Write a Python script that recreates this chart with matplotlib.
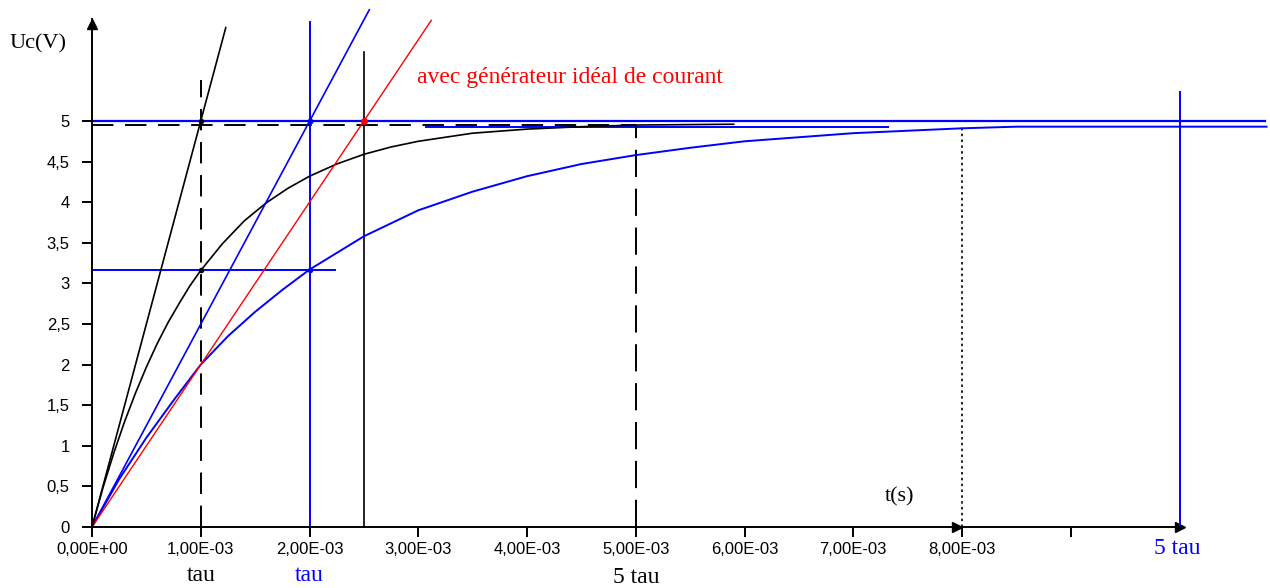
import matplotlib
matplotlib.use('Agg')
import matplotlib.pyplot as plt

# courbe de charge tau = 1 ms (noir)
t_noir = [0, 0.1e-3, 0.2e-3, 0.3e-3, 0.4e-3, 0.5e-3, 0.6e-3, 0.7e-3, 0.8e-3, 0.9e-3,
          1.0e-3, 1.2e-3, 1.4e-3, 1.6e-3, 1.8e-3, 2.0e-3, 2.25e-3, 2.5e-3, 2.75e-3,
          3.0e-3, 3.5e-3, 4.0e-3, 4.5e-3, 5.0e-3, 5.9e-3]
u_noir = [0, 0.48, 0.91, 1.3, 1.65, 1.97, 2.26, 2.52, 2.75, 2.97,
          3.16, 3.49, 3.77, 3.99, 4.17, 4.32, 4.47, 4.59, 4.68,
          4.75, 4.85, 4.9, 4.93, 4.95, 4.96]

# courbe de charge tau = 2 ms (bleu)
t_bleu = [0, 0.25e-3, 0.5e-3, 0.75e-3, 1.0e-3, 1.25e-3, 1.5e-3, 1.75e-3, 2.0e-3,
          2.5e-3, 3.0e-3, 3.5e-3, 4.0e-3, 4.5e-3, 5.0e-3, 5.5e-3, 6.0e-3, 7.0e-3,
          8.0e-3, 8.5e-3, 10.8e-3]
u_bleu = [0, 0.59, 1.1, 1.56, 2.0, 2.35, 2.65, 2.92, 3.17,
          3.58, 3.9, 4.13, 4.32, 4.47, 4.58, 4.67, 4.75, 4.85,
          4.91, 4.93, 4.93]

# tangentes a l'origine
t_tan_noir = [0, 1.23e-3]
u_tan_noir = [0, 6.15]
t_tan_bleu = [0, 2.55e-3]
u_tan_bleu = [0, 6.37]
# generateur ideal de courant
t_rouge = [0, 3.12e-3]
u_rouge = [0, 6.24]

# segment bleu proche de l'asymptote
t_plat = [3.07e-3, 7.32e-3]
u_plat = [4.93, 4.93]

x_ticks = [0, 1e-3, 2e-3, 3e-3, 4e-3, 5e-3, 6e-3, 7e-3, 8e-3, 9e-3]
x_labels = ['0,00E+00', '1,00E-03', '2,00E-03', '3,00E-03', '4,00E-03',
            '5,00E-03', '6,00E-03', '7,00E-03', '8,00E-03', '']
y_ticks = [0, 0.5, 1, 1.5, 2, 2.5, 3, 3.5, 4, 4.5, 5]
y_labels = ['0', '0,5', '1', '1,5', '2', '2,5', '3', '3,5', '4', '4,5', '5']

BLEU = '#0000ff'
ROUGE = '#ff0000'

fig = plt.figure(figsize=(12.7, 5.88), dpi=100)
ax = fig.add_axes([0, 0, 1, 1])
ax.set_xlim(-0.846e-3, 10.832e-3)
ax.set_ylim(-0.751, 6.49)

# axes
ax.spines['left'].set_position(('data', 0))
ax.spines['bottom'].set_position(('data', 0))
ax.spines['right'].set_visible(False)
ax.spines['top'].set_visible(False)
ax.spines['left'].set_bounds(0, 6.25)
ax.spines['bottom'].set_bounds(0, 10e-3)
ax.spines['left'].set_linewidth(1.4)
ax.spines['bottom'].set_linewidth(1.4)
ax.set_xticks(x_ticks)
ax.set_xticklabels(x_labels, family='Liberation Sans', fontsize=12)
ax.set_yticks(y_ticks)
ax.set_yticklabels(y_labels, family='Liberation Sans', fontsize=12)
ax.tick_params(axis='both', direction='out', length=7, width=1.4)
ax.tick_params(axis='x', pad=4)
ax.tick_params(axis='y', pad=9)
ax.patch.set_visible(False)

# fleches des axes
ax.plot([0], [6.2], marker='^', color='k', markersize=7, clip_on=False)
ax.plot([7.95e-3, 10e-3], [0, 0], linestyle='none', marker='>', color='k', markersize=7)

# lignes horizontales
ax.plot([0, 10.79e-3], [5, 5], color=BLEU, lw=1.6)
ax.plot([0, 5e-3], [4.95, 4.95], color='k', lw=1.4, linestyle=(0, (11, 6)))
ax.plot([0, 2.23e-3], [3.17, 3.17], color=BLEU, lw=1.4)
ax.plot(t_plat, u_plat, color=BLEU, lw=1.4)

# lignes verticales
ax.plot([1e-3, 1e-3], [0, 5.5], color='k', lw=1.4, linestyle=(0, (11, 6)))
ax.plot([2e-3, 2e-3], [0, 6.22], color=BLEU, lw=1.4)
ax.plot([2.5e-3, 2.5e-3], [0, 5.85], color='k', lw=1.2)
ax.plot([5e-3, 5e-3], [0, 4.95], color='k', lw=1.4, linestyle=(0, (14, 6)))
ax.plot([8e-3, 8e-3], [0, 4.95], color='k', lw=1.2, linestyle=(0, (1.5, 2)))
ax.plot([10e-3, 10e-3], [0, 5.36], color=BLEU, lw=1.4)

# courbes
ax.plot(t_bleu, u_bleu, color=BLEU, lw=1.4)
ax.plot(t_noir, u_noir, color='k', lw=1.2)
ax.plot(t_tan_bleu, u_tan_bleu, color=BLEU, lw=1.2)
ax.plot(t_rouge, u_rouge, color=ROUGE, lw=1.0)
ax.plot(t_tan_noir, u_tan_noir, color='k', lw=1.2)

# points d'intersection
ax.plot([1e-3, 2e-3], [5, 5], linestyle='none', marker='o', color='k', markersize=3)
ax.plot([2e-3], [5], linestyle='none', marker='o', color=BLEU, markersize=3)
ax.plot([2.5e-3], [5], linestyle='none', marker='o', color=ROUGE, markersize=4)
ax.plot([1e-3], [3.17], linestyle='none', marker='o', color='k', markersize=3)
ax.plot([2e-3], [3.17], linestyle='none', marker='o', color=BLEU, markersize=3)

# textes
serif = 'Liberation Serif'
ax.text(-0.76e-3, 5.95, 'Uc(V)', family=serif, fontsize=16, va='center', ha='left')
ax.text(7.43e-3, 0.37, 't(s)', family=serif, fontsize=16, va='center', ha='center')
ax.text(1e-3, -0.6, 'tau', family=serif, fontsize=17, va='center', ha='center')
ax.text(2e-3, -0.6, 'tau', family=serif, fontsize=17, va='center', ha='center', color=BLEU)
ax.text(5e-3, -0.62, '5 tau', family=serif, fontsize=17, va='center', ha='center')
ax.text(9.98e-3, -0.27, '5 tau', family=serif, fontsize=17, va='center', ha='center', color=BLEU)
ax.text(2.99e-3, 5.54, 'avec générateur idéal de courant', family=serif, fontsize=17,
        va='center', ha='left', color=ROUGE)

plt.savefig('out.png', dpi=100)
